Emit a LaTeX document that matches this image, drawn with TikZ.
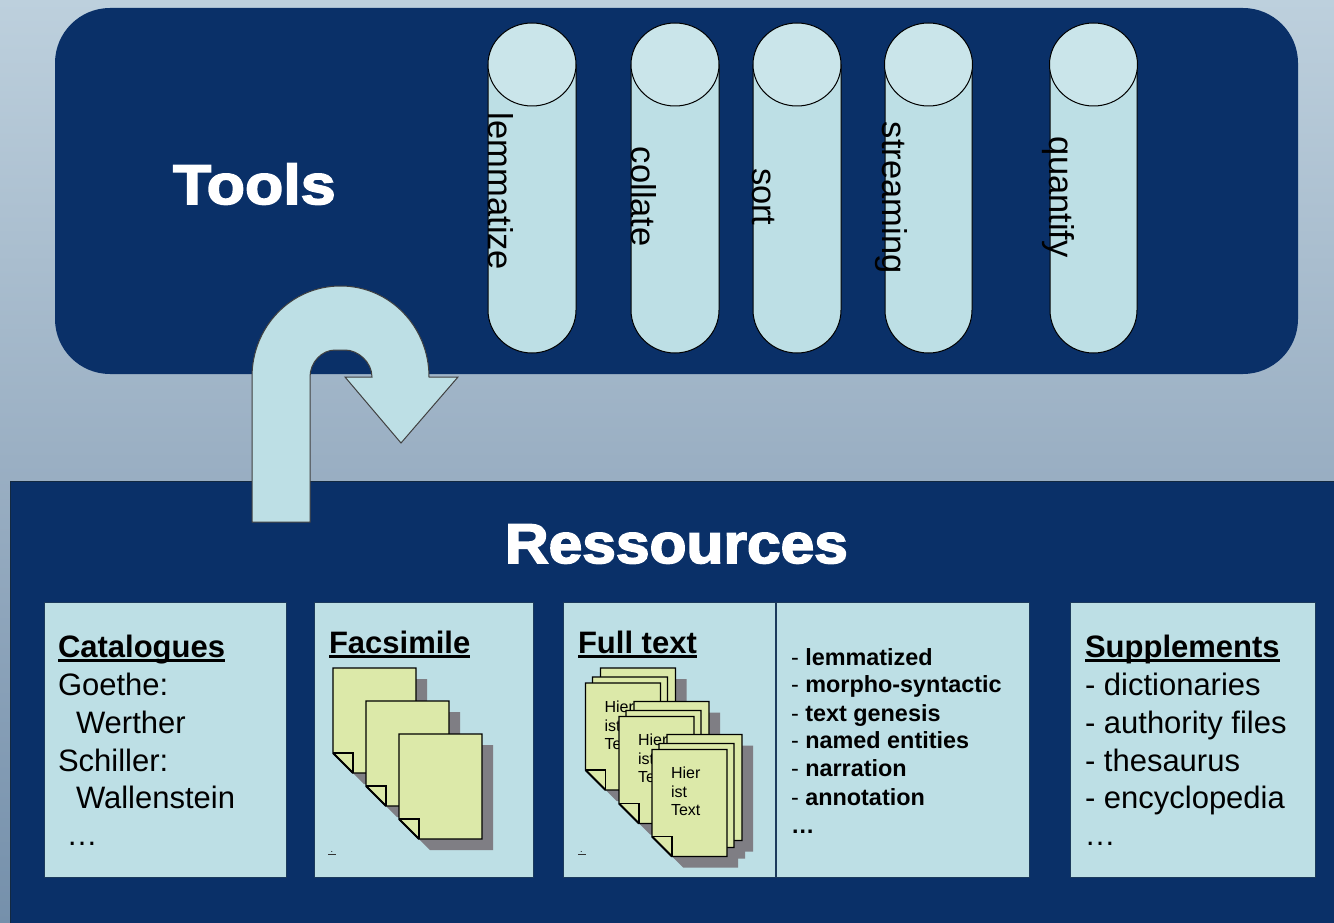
\documentclass[tikz,border=0pt]{standalone}
\usepackage{fontspec}
\setmainfont{Liberation Sans}
\newfontfamily\headfont[FakeStretch=1.08,FakeBold=3]{Liberation Sans Bold}
\newfontfamily\toolsfont[FakeStretch=1.12,FakeBold=3]{Liberation Sans Bold}
\definecolor{navy}{HTML}{0A3068}
\definecolor{pale}{HTML}{BDDFE5}
\definecolor{paletop}{HTML}{CAE5EA}
\definecolor{leaf}{HTML}{DCE9A9}
\definecolor{shadowgrey}{HTML}{7F7E84}
\definecolor{edge}{HTML}{1B3A5C}
\definecolor{BGtop}{HTML}{BDD0DD}
\definecolor{BGmid}{HTML}{9AAFC3}
\definecolor{BGbot}{HTML}{7590AB}
\newcommand{\ulbold}[1]{\setbox0\hbox{\bfseries #1}\rlap{\rule[-4.5pt]{\wd0}{2.6pt}}\box0}
\newcommand{\fs}[1]{\fontsize{#1}{#1}\selectfont}
\tikzset{
  lbl/.style={anchor=base west,inner sep=0pt,outer sep=0pt,text=black},
  body/.style={lbl,font=\fs{31}},
  boldline/.style={lbl,font=\fs{23.4}},
  rotlbl/.style={lbl,rotate=-90,font=\fs{34.5}},
  head/.style={lbl,text=white,font=\headfont\fs{56}},
  small/.style={lbl,font=\fs{16}},
  card/.style={fill=pale,draw=edge,line width=0.7pt},
  cyl/.style={fill=pale,draw=black,line width=1pt},
  sheet/.style={fill=leaf,draw=black,line width=1.1pt,line join=miter},
}
% sheet polygon: left, top, width, height
\newcommand{\sheetpath}[4]{({#1},{#2}) -- ({#1+#3},{#2}) -- ({#1+#3},{#2+#4}) -- ({#1+20},{#2+#4}) -- ({#1},{#2+#4-20}) -- cycle}
\newcommand{\shadowsheet}[4]{\fill[shadowgrey] \sheetpath{#1+11}{#2+11}{#3}{#4};}
\newcommand{\docsheet}[4]{%
  \draw[sheet] \sheetpath{#1}{#2}{#3}{#4};
  \draw[line width=1.1pt] ({#1},{#2+#4-20}) -- ({#1+20},{#2+#4-20}) -- ({#1+20},{#2+#4});
  \draw[line width=2pt] ({#1},{#2+#4-20}) -- ({#1+20},{#2+#4});
}
\newcommand{\stack}[2]{%
  \shadowsheet{#1+15}{#2-15}{75}{106}
  \shadowsheet{#1+7}{#2-6}{75}{104}
  \shadowsheet{#1}{#2}{75}{107}
  \draw[sheet] \sheetpath{#1+15}{#2-15}{75}{106};
  \draw[sheet] \sheetpath{#1+7}{#2-6}{75}{104};
  \docsheet{#1}{#2}{75}{107}
  \node[small] at ({#1+19},{#2+29}) {Hier};
  \node[small] at ({#1+19},{#2+48}) {ist};
  \node[small] at ({#1+19},{#2+66}) {Text};
}
\begin{document}
\begin{tikzpicture}[x=1pt,y=-1pt]
\useasboundingbox (0,0) rectangle (1334,923);
\shade[top color=BGtop,bottom color=BGbot,middle color=BGmid] (0,0) rectangle (1334,923);
\fill[navy] (55,63) arc[start angle=180,end angle=90,radius=55pt] -- (1243,8) arc[start angle=90,end angle=0,radius=55pt] -- (1298,319) arc[start angle=0,end angle=-90,radius=55pt] -- (110,374) arc[start angle=-90,end angle=-180,radius=55pt] -- cycle;
\fill[navy] (10,481) rectangle (1334,923);
\draw[edge!70!black,line width=1pt] (10,923) -- (10,481) -- (1334,481);
% cylinders
\foreach \l/\r in {488/576,631/719,753/841,885/972,1050/1137}{
  \pgfmathsetmacro{\m}{(\l+\r)/2}
  \draw[cyl] (\l,65) -- (\l,310) .. controls (\l,334) and ({\m-24},353) .. (\m,353) .. controls ({\m+24},353) and (\r,334) .. (\r,310) -- (\r,65) -- cycle;
  \draw[cyl,fill=paletop] (\m,64.5) ellipse [x radius=44pt,y radius=41.5pt];
}
\node[rotlbl] (lem) at (488,113) {lemmatize};
\node[rotlbl] (col) at (631,147) {collate};
\node[rotlbl] (srt) at (752,168) {sort};
\node[rotlbl] (str) at (882.5,122) {streaming};
\node[rotlbl] (qua) at (1049,137) {quantify};
\node[lbl,text=white,font=\toolsfont\fs{56}] (tools) at (173,204) {Tools};
\node[head] (res) at (505,563) {Ressources};
% bent arrow
\draw[fill=pale,draw=black!75,line width=1pt,line join=miter] (252,522) -- (252,377)
  .. controls (252,327) and (291,286) .. (340.5,286)
  .. controls (390,286) and (429,327) .. (429,377)
  -- (458,377) -- (401,443) -- (345,377) -- (372,377)
  .. controls (372,362) and (358,350) .. (345,350) -- (335,350)
  .. controls (322,350) and (310,362) .. (310,377) -- (310,522) -- cycle;
% cards
\draw[card] (44,602) rectangle (286.5,877);
\draw[card] (314,602) rectangle (533.5,877);
\draw[card] (563,602) rectangle (1029.5,877);
\draw[edge,line width=1.2pt] (776,602) -- (776,877);
\draw[card] (1070,602) rectangle (1315.5,877);
% catalogues
\node[body] (cat0) at (58,657) {\ulbold{Catalogues}};
\node[body] (cat1) at (58,695) {Goethe:};
\node[body] (cat2) at (76,733) {Werther};
\node[body] (cat3) at (58,771) {Schiller:};
\node[body] (cat4) at (76,808) {Wallenstein};
\node[body] (cat5) at (66.5,845) {…};
% facsimile
\node[body] (fac) at (329,653) {\ulbold{Facsimile}};
\shadowsheet{333}{668}{83}{105}
\docsheet{333}{668}{83}{105}
\shadowsheet{366}{701}{83}{105}
\docsheet{366}{701}{83}{105}
\shadowsheet{399}{734}{83}{105}
\docsheet{399}{734}{83}{105}
\node[lbl,font=\fs{9}] (fdot) at (330.5,852) {.};
\fill[black!80] (328,853.5) rectangle (336,855);
% full text
\node[body] (ful) at (578,653) {\ulbold{Full text}};
\stack{585.5}{683}
\stack{619}{716.5}
\stack{652}{749.5}
\node[lbl,font=\fs{9}] (tdot) at (580,852) {.};
\fill[black!80] (577.5,853.5) rectangle (585.5,855);
% list
\node[boldline] (b1) at (791,665) {- \textbf{lemmatized}};
\node[boldline] (b2) at (791,692.5) {- \textbf{morpho-syntactic}};
\node[boldline] (b3) at (791,721) {- \textbf{text genesis}};
\node[boldline] (b4) at (791,748.5) {- \textbf{named entities}};
\node[boldline] (b5) at (791,776) {- \textbf{narration}};
\node[boldline] (b6) at (791,805) {- \textbf{annotation}};
\node[boldline] (b7) at (791,833) {\textbf{…}};
% supplements
\node[body] (sup0) at (1085,657.5) {\ulbold{Supplements}};
\node[body] (sup1) at (1085,695) {- dictionaries};
\node[body] (sup2) at (1085,733) {- authority files};
\node[body] (sup3) at (1085,771) {- thesaurus};
\node[body] (sup4) at (1085,808) {- encyclopedia};
\node[body] (sup5) at (1084.5,845) {…};
\end{tikzpicture}
\end{document}
